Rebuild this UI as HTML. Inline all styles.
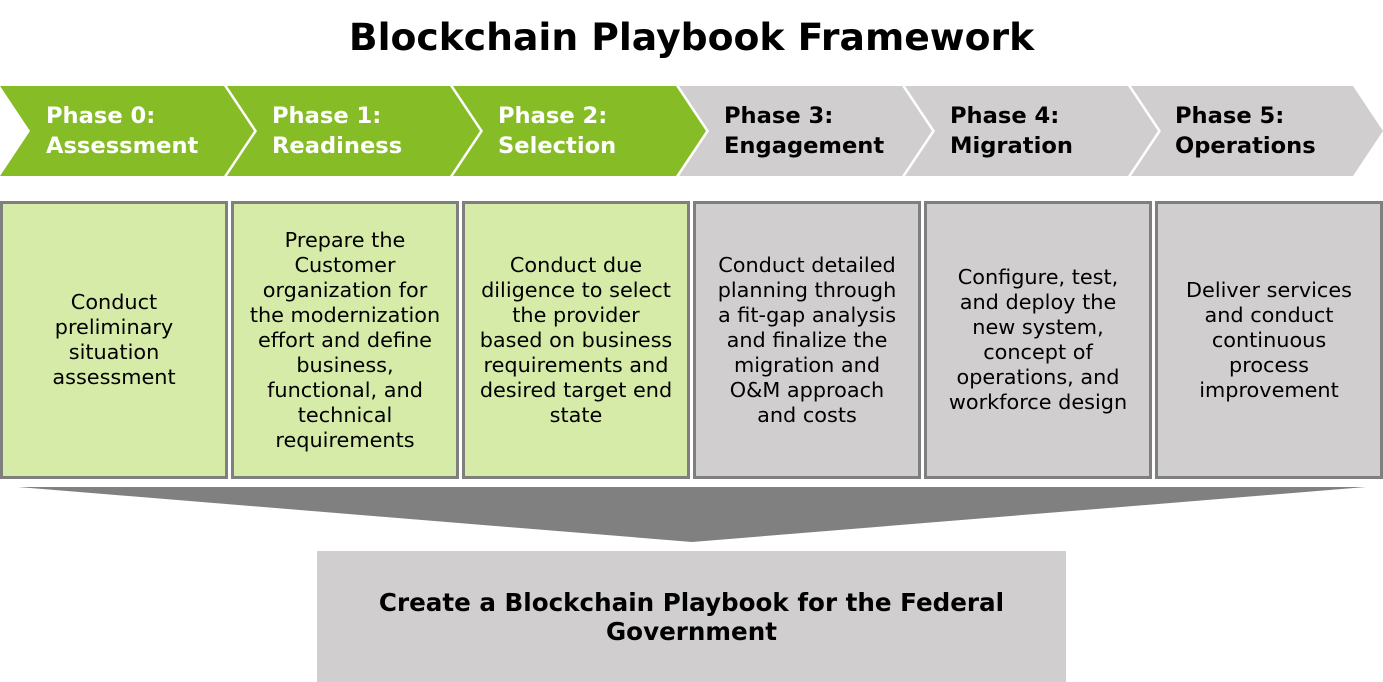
<!DOCTYPE html>
<html><head><meta charset="utf-8">
<style>
body{margin:0;width:1383px;height:682px;background:#fff;position:relative;overflow:hidden;font-family:"DejaVu Sans","Liberation Sans",sans-serif}
#title{position:absolute;left:0;top:15px;width:1383px;text-align:center;font-weight:bold;font-size:37.7px;color:#000}
.lbl{position:absolute;top:101px;font-weight:bold;font-size:22.6px;line-height:30px}
.box{position:absolute;top:201px;height:272px;border:3px solid #7f7f7f;display:flex;align-items:center;justify-content:center;text-align:center;font-size:20.8px;line-height:25px;color:#000;box-sizing:content-box;white-space:nowrap}
.g{background:#d5eba7}.n{background:#d0cece}
#goal{position:absolute;left:317px;top:551px;width:749px;height:131px;background:#d0cece;display:flex;align-items:center;justify-content:center;text-align:center;font-weight:bold;font-size:24.6px;line-height:29px;white-space:nowrap}
</style></head><body>
<div id="title">Blockchain Playbook Framework</div>
<svg width="1383" height="682" style="position:absolute;left:0;top:0">
<g>
<polygon points="0,86 224,86 254,131 224,176 0,176 30,131" fill="#86bc25"/>
<polygon points="227,86 450,86 480,131 450,176 227,176 257,131" fill="#86bc25"/>
<polygon points="453,86 676,86 706,131 676,176 453,176 483,131" fill="#86bc25"/>
<polygon points="679,86 902,86 932,131 902,176 679,176 709,131" fill="#d0cece"/>
<polygon points="905,86 1128,86 1158,131 1128,176 905,176 935,131" fill="#d0cece"/>
<polygon points="1131,86 1353,86 1383,131 1353,176 1131,176 1161,131" fill="#d0cece"/>
</g>
<polygon points="18,487 1366,487 692,542" fill="#808080"/>
</svg>
<div class="lbl" style="left:46px;color:#fff">Phase 0:<br>Assessment</div>
<div class="lbl" style="left:272px;color:#fff">Phase 1:<br>Readiness</div>
<div class="lbl" style="left:498px;color:#fff">Phase 2:<br>Selection</div>
<div class="lbl" style="left:724px;color:#000">Phase 3:<br>Engagement</div>
<div class="lbl" style="left:950px;color:#000">Phase 4:<br>Migration</div>
<div class="lbl" style="left:1175px;color:#000">Phase 5:<br>Operations</div>

<div class="box g" style="left:0;width:222px"><div>Conduct<br>preliminary<br>situation<br>assessment</div></div>
<div class="box g" style="left:231px;width:222px"><div>Prepare the<br>Customer<br>organization for<br>the modernization<br>effort and define<br>business,<br>functional, and<br>technical<br>requirements</div></div>
<div class="box g" style="left:462px;width:222px"><div>Conduct due<br>diligence to select<br>the provider<br>based on business<br>requirements and<br>desired target end<br>state</div></div>
<div class="box n" style="left:693px;width:222px"><div>Conduct detailed<br>planning through<br>a fit-gap analysis<br>and finalize the<br>migration and<br>O&amp;M approach<br>and costs</div></div>
<div class="box n" style="left:924px;width:222px"><div>Configure, test,<br>and deploy the<br>new system,<br>concept of<br>operations, and<br>workforce design</div></div>
<div class="box n" style="left:1155px;width:222px"><div>Deliver services<br>and conduct<br>continuous<br>process<br>improvement</div></div>

<div id="goal"><div>Create a Blockchain Playbook for the Federal<br>Government</div></div>
</body></html>
